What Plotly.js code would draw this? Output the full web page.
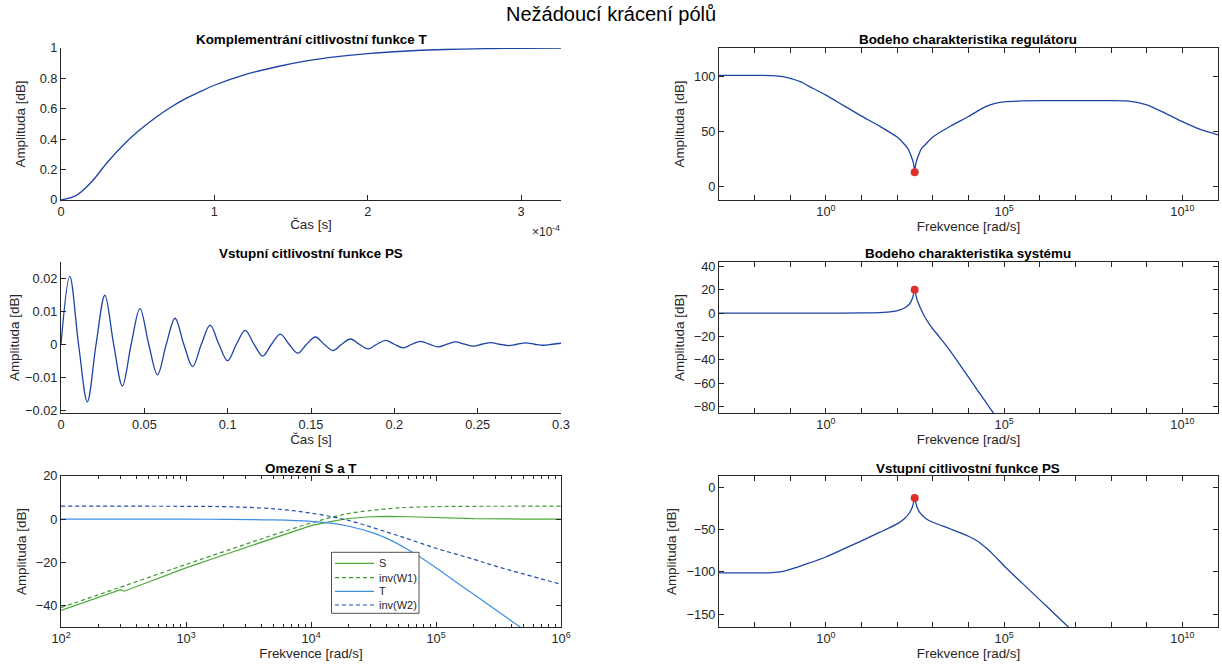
<!DOCTYPE html>
<html>
<head>
<meta charset="utf-8">
<script src="https://cdn.plot.ly/plotly-3.0.1.min.js"></script>
<style>html,body{margin:0;padding:0;background:#fff;}#chart{width:1222px;height:672px;}</style>
</head>
<body>
<div id="chart"></div>
<script>
// ---------- data: T step response ----------
const tStep = [0, 1e-5, 2e-5, 3e-5, 4e-5, 5e-5, 6e-5, 7e-5, 8e-5, 9e-5, 1.0e-4, 1.2e-4, 1.4e-4, 1.6e-4, 1.8e-4, 2.0e-4, 2.2e-4, 2.5e-4, 2.8e-4, 3.0e-4, 3.26e-4];
const yStep = [0, 0.03, 0.12, 0.245, 0.355, 0.45, 0.53, 0.6, 0.66, 0.71, 0.755, 0.825, 0.875, 0.915, 0.943, 0.963, 0.977, 0.99, 0.996, 0.998, 1.0];
const tStepTicks = [0, 1e-4, 2e-4, 3e-4];
const tStepLabels = ['0', '1', '2', '3'];

// ---------- data: PS time response ----------
const tPS = [0, 0.00526, 0.01053, 0.01579, 0.02105, 0.02632, 0.03158, 0.03684, 0.04211, 0.04737, 0.05263, 0.05789, 0.06316, 0.06842, 0.07368, 0.07895, 0.08421, 0.08947, 0.09474, 0.1, 0.10526, 0.11053, 0.11579, 0.12105, 0.12632, 0.13158, 0.13684, 0.14211, 0.14737, 0.15263, 0.15789, 0.16316, 0.16842, 0.17368, 0.17895, 0.18421, 0.18947, 0.19474, 0.2, 0.20526, 0.21053, 0.21579, 0.22105, 0.22632, 0.23158, 0.23684, 0.24211, 0.24737, 0.25263, 0.25789, 0.26316, 0.26842, 0.27368, 0.27895, 0.28421, 0.28947, 0.29474, 0.3];
const yPS = [0, 0.0206, 0, -0.0175, 0, 0.0149, 0, -0.0127, 0, 0.0108, 0, -0.0093, 0, 0.0079, 0, -0.0068, 0, 0.0058, 0, -0.005, 0, 0.0042, 0, -0.0036, 0, 0.0031, 0, -0.0027, 0, 0.0022, 0, -0.0019, 0, 0.0016, 0, -0.0014, 0, 0.0012, 0, -0.0011, 0, 0.0009, 0, -0.0008, 0, 0.0007, 0, -0.0006, 0, 0.0005, 0, -0.0004, 0, 0.0004, 0, -0.0003, 0, 0.0003];

// ---------- data: Omezení S a T ----------
const fS = [100, 200, 290, 300, 320, 500, 1000, 2000, 5000, 1e4, 1.5e4, 2e4, 3e4, 4e4, 6e4, 1e5, 2e5, 5e5, 1e6];
const magS = [-42.3, -36.3, -33.1, -32.7, -33.4, -29.1, -22.6, -16.6, -8.8, -3.0, -0.9, 0.3, 1.1, 1.3, 1.1, 0.6, 0.2, 0.05, 0];
const fW1 = [100, 300, 1000, 3000, 5000, 1e4, 1.5e4, 2e4, 3e4, 5e4, 1e5, 2e5, 1e6];
const magW1 = [-41, -31.5, -21, -11.6, -7.3, -1.8, 1.0, 2.6, 4.0, 5.2, 5.8, 5.95, 6.0];
const fT = [100, 1000, 2000, 5000, 1e4, 1.5e4, 2e4, 3e4, 4e4, 6e4, 1e5, 1.5e5, 2e5, 3e5, 4.7e5, 6e5];
const magT = [0, -0.02, -0.08, -0.35, -1.0, -2.0, -3.3, -6.0, -8.8, -14.2, -22.5, -29.8, -34.8, -42, -50, -54.2];
const fW2 = [100, 1000, 2000, 3000, 5000, 7000, 1e4, 1.5e4, 2e4, 3e4, 5e4, 1e5, 2e5, 3e5, 5e5, 1e6];
const magW2 = [6, 5.95, 5.8, 5.5, 4.8, 4.0, 2.8, 1.0, -0.6, -3.6, -7.7, -13.5, -18.6, -21.8, -25.4, -30.2];
const legendNames = ['S', 'inv(W1)', 'T', 'inv(W2)'];
const stTicks = [100, 1000, 1e4, 1e5, 1e6];
const stLabels = ['10<sup>2</sup>', '10<sup>3</sup>', '10<sup>4</sup>', '10<sup>5</sup>', '10<sup>6</sup>'];

// ---------- data: Bode regulátoru ----------
const fReg = [1e-3, 1e-2, 0.0316, 0.0631, 0.1, 0.1995, 0.3162, 1, 3.162, 10, 31.62, 100, 158.5, 199.5, 251.2, 281.8, 309, 338.8, 380.2, 478.6, 631, 1000, 3162, 1e4, 19953, 31623, 50119, 1e5, 316228, 1e6, 1e7, 1e8, 3.162e8, 1e9, 3.162e9, 1e10, 3.162e10, 1e11];
const magReg = [101, 101, 100.7, 99.8, 98.3, 95, 91.5, 83, 73.5, 64, 55, 45, 38.5, 34.5, 27, 22, 15, 22, 27, 34.5, 38.5, 45, 55, 63.6, 69.5, 72.8, 75.2, 77, 77.8, 78, 78, 78, 77.6, 74.3, 67, 59, 52, 47];

// ---------- data: Bode systému ----------
const fSys = [1e-3, 1, 10, 31.62, 70.8, 125.9, 173.8, 223.9, 269.2, 309, 354.8, 398.1, 575.4, 912, 1479, 3162, 1e4, 31623, 56234];
const magSys = [0, 0, 0.1, 0.4, 1.2, 3, 5, 8, 13, 19.5, 12, 8, -2.5, -12, -20, -33, -55, -77, -88];

// ---------- data: Vstupní citlivostní funkce PS (freq) ----------
const fPSf = [1e-3, 1e-2, 0.0316, 0.0631, 0.1, 0.3162, 1, 3.162, 10, 31.62, 100, 158.5, 223.9, 269.2, 309, 354.8, 426.6, 631, 1000, 3162, 1e4, 19953, 31623, 56234, 1e5, 316228, 1e6, 3.162e6, 1e7];
const magPSf = [-101.3, -101.3, -101, -99.3, -97, -90, -82.5, -73, -63.5, -53.5, -43.5, -37.5, -30, -23, -14, -23, -30, -37, -41.5, -49.5, -58, -65, -72, -82, -93, -113, -133, -153, -173];

// resonance markers
const fRes = [309];
const resReg = [13.1];
const resSys = [20.1];
const resPS = [-12.9];

const bodeTicks = [1, 1e5, 1e10];
const bodeLabels = ['10<sup>0</sup>', '10<sup>5</sup>', '10<sup>10</sup>'];
const bodeMinor = [1e-3, 1e-2, 1e-1, 10, 100, 1e3, 1e4, 1e6, 1e7, 1e8, 1e9, 1e11];

// ---------- styling ----------
const W = 1222, H = 672;
const FONT = 'Liberation Sans, Arial, Helvetica, sans-serif';
const AXC = '#262626';
const LINE = '#1c44a4';
const RED = '#e0302c';
const CS = '#4caa3a', CW1 = '#3f9a34', CT = '#3d8fe3', CW2 = '#1f4fb0';
const DASH = '4px,3px';
const TICK = 12.8, TTL = 13.4, HEAD = 13.4;
const px = v => v / W;
const py = v => 1 - v / H;

const colL = [px(61), px(561)];
const colR = [px(719), px(1218)];
const row1 = [py(200), py(48)];
const row2 = [py(413), py(262)];
const row3 = [py(627), py(476)];

function ttl(text, standoff) {
  return {text: text, font: {family: FONT, size: TTL, color: AXC}, standoff: standoff};
}
function axis(extra) {
  return Object.assign({
    showline: true, linecolor: AXC, linewidth: 1,
    ticks: 'inside', ticklen: 5, tickcolor: AXC, tickwidth: 1,
    tickfont: {family: FONT, size: TICK, color: AXC},
    showgrid: false, zeroline: false, mirror: false
  }, extra);
}

const traces = [
  {x: tStep, y: yStep, xaxis: 'x', yaxis: 'y', mode: 'lines', line: {color: LINE, width: 1.3, shape: 'spline'}},
  {x: tPS, y: yPS, xaxis: 'x2', yaxis: 'y2', mode: 'lines', line: {color: LINE, width: 1.3, shape: 'spline', smoothing: 1.0}},
  {x: fS, y: magS, xaxis: 'x3', yaxis: 'y3', mode: 'lines', name: legendNames[0], line: {color: CS, width: 1.2}},
  {x: fW1, y: magW1, xaxis: 'x3', yaxis: 'y3', mode: 'lines', name: legendNames[1], line: {color: CW1, width: 1.2, dash: DASH, shape: 'spline'}},
  {x: fT, y: magT, xaxis: 'x3', yaxis: 'y3', mode: 'lines', name: legendNames[2], line: {color: CT, width: 1.2, shape: 'spline'}},
  {x: fW2, y: magW2, xaxis: 'x3', yaxis: 'y3', mode: 'lines', name: legendNames[3], line: {color: CW2, width: 1.2, dash: DASH, shape: 'spline'}},
  {x: fReg, y: magReg, xaxis: 'x4', yaxis: 'y4', mode: 'lines', line: {color: LINE, width: 1.3, shape: 'spline', smoothing: 0.6}},
  {x: fRes, y: resReg, xaxis: 'x4', yaxis: 'y4', mode: 'markers', marker: {color: RED, size: 8}},
  {x: fSys, y: magSys, xaxis: 'x5', yaxis: 'y5', mode: 'lines', line: {color: LINE, width: 1.3, shape: 'spline', smoothing: 0.6}},
  {x: fRes, y: resSys, xaxis: 'x5', yaxis: 'y5', mode: 'markers', marker: {color: RED, size: 8}},
  {x: fPSf, y: magPSf, xaxis: 'x6', yaxis: 'y6', mode: 'lines', line: {color: LINE, width: 1.3, shape: 'spline', smoothing: 0.6}},
  {x: fRes, y: resPS, xaxis: 'x6', yaxis: 'y6', mode: 'markers', marker: {color: RED, size: 8}}
];

const bodeX = (dom, anchor) => axis({
  domain: dom, anchor: anchor, type: 'log', range: [-3, 11], mirror: 'ticks',
  tickmode: 'array', tickvals: bodeTicks, ticktext: bodeLabels,
  minor: {tickmode: 'array', tickvals: bodeMinor, ticks: 'inside', ticklen: 5, tickcolor: AXC, showgrid: false},
  title: ttl('Frekvence [rad/s]', 1)
});

// manual legend (box, line samples, labels) for "Omezení S a T"
const legColors = [CS, CW1, CT, CW2];
const legDash = ['solid', 'dash', 'solid', 'dash'];
const legRowsY = [563.3, 577.7, 591.3, 605];
const shapes = [
  {type: 'rect', xref: 'paper', yref: 'paper', x0: px(331.5), x1: px(419), y0: py(613.3), y1: py(552.3),
   line: {color: AXC, width: 0.8}, fillcolor: '#fff', layer: 'above'}
];
const legTexts = [];
legendNames.forEach((n, i) => {
  shapes.push({type: 'line', xref: 'paper', yref: 'paper', x0: px(335), x1: px(374), y0: py(legRowsY[i]), y1: py(legRowsY[i]),
    line: {color: legColors[i], width: 1.2, dash: legDash[i] === 'dash' ? DASH : 'solid'}, layer: 'above'});
  legTexts.push({text: n, x: px(377), y: py(legRowsY[i]), xref: 'paper', yref: 'paper', xanchor: 'left', yanchor: 'middle',
    showarrow: false, font: {family: FONT, size: 11, color: AXC}});
});

const head = (text, x, y) => ({text: '<b>' + text + '</b>', x: px(x), y: py(y), xref: 'paper', yref: 'paper',
  xanchor: 'center', yanchor: 'middle', showarrow: false, font: {family: FONT, size: HEAD, color: '#000'}});

const layout = {
  width: W, height: H,
  margin: {l: 0, r: 0, t: 0, b: 0},
  paper_bgcolor: '#fff', plot_bgcolor: '#fff',
  font: {family: FONT, color: AXC},
  showlegend: false,
  xaxis: axis({domain: colL, anchor: 'y', range: [0, 3.26e-4], tickmode: 'array', tickvals: tStepTicks, ticktext: tStepLabels,
    title: ttl('Čas [s]', 1)}),
  yaxis: axis({domain: row1, anchor: 'x', range: [0, 1], dtick: 0.2, title: ttl('Amplituda [dB]', 10)}),
  xaxis2: axis({domain: colL, anchor: 'y2', range: [0, 0.3], dtick: 0.05, title: ttl('Čas [s]', 1)}),
  yaxis2: axis({domain: row2, anchor: 'x2', range: [-0.0209, 0.025], tickvals: [-0.02, -0.01, 0, 0.01, 0.02], tickmode: 'array',
    title: ttl('Amplituda [dB]', 2)}),
  xaxis3: axis({domain: colL, anchor: 'y3', type: 'log', range: [2, 6], mirror: 'ticks',
    tickmode: 'array', tickvals: stTicks, ticktext: stLabels,
    minor: {ticks: 'inside', ticklen: 3, tickcolor: AXC, dtick: 'D1', showgrid: false},
    title: ttl('Frekvence [rad/s]', 1)}),
  yaxis3: axis({domain: row3, anchor: 'x3', range: [-50, 20], mirror: 'ticks', tickvals: [-40, -20, 0, 20], tickmode: 'array',
    title: ttl('Amplituda [dB]', 6)}),
  xaxis4: bodeX(colR, 'y4'),
  yaxis4: axis({domain: row1, anchor: 'x4', range: [-12.1, 125.8], tickmode: 'array', tickvals: [0, 50, 100], mirror: 'ticks',
    title: ttl('Amplituda [dB]', 6)}),
  xaxis5: bodeX(colR, 'y5'),
  yaxis5: axis({domain: row2, anchor: 'x5', range: [-85.7, 43.8], tickmode: 'array', tickvals: [-80, -60, -40, -20, 0, 20, 40], mirror: 'ticks',
    title: ttl('Amplituda [dB]', 6)}),
  xaxis6: bodeX(colR, 'y6'),
  yaxis6: axis({domain: row3, anchor: 'x6', range: [-165, 13], tickmode: 'array', tickvals: [-150, -100, -50, 0], mirror: 'ticks',
    title: ttl('Amplituda [dB]', 6)}),
  shapes: shapes,
  annotations: [
    {text: 'Nežádoucí krácení pólů', x: 0.5, y: py(14), xref: 'paper', yref: 'paper', xanchor: 'center', yanchor: 'middle', showarrow: false, font: {family: FONT, size: 20, color: '#000'}},
    head('Komplementrání citlivostní funkce T', 311, 39),
    head('Vstupní citlivostní funkce PS', 311, 253),
    head('Omezení S a T', 311, 468),
    head('Bodeho charakteristika regulátoru', 968.5, 39),
    head('Bodeho charakteristika systému', 968.5, 253),
    head('Vstupní citlivostní funkce PS', 968.5, 468),
    {text: '×10<sup>-4</sup>', x: px(562), y: py(231), xref: 'paper', yref: 'paper', xanchor: 'right', yanchor: 'middle', showarrow: false, font: {family: FONT, size: 12, color: AXC}}
  ].concat(legTexts)
};

Plotly.newPlot('chart', traces, layout, {displayModeBar: false, staticPlot: true});
</script>
</body>
</html>
